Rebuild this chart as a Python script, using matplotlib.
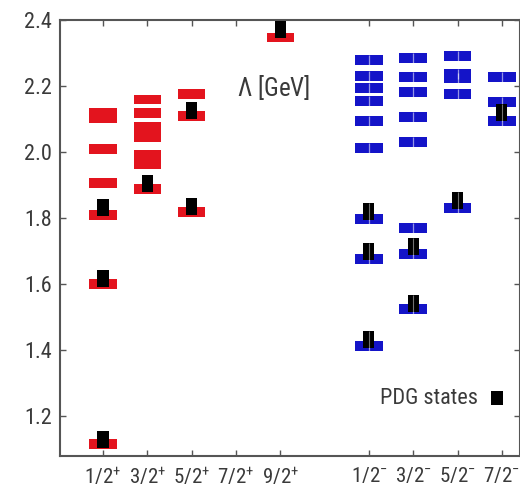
import matplotlib
matplotlib.use("Agg")
import matplotlib.pyplot as plt
from matplotlib.patches import Rectangle
from matplotlib import font_manager

# ---------------- data ----------------
pos_labels = [r"$\mathregular{1/2^{+}}$", r"$\mathregular{3/2^{+}}$", r"$\mathregular{5/2^{+}}$",
              r"$\mathregular{7/2^{+}}$", r"$\mathregular{9/2^{+}}$"]
neg_labels = [r"$\mathregular{1/2^{-}}$", r"$\mathregular{3/2^{-}}$", r"$\mathregular{5/2^{-}}$",
              r"$\mathregular{7/2^{-}}$"]
pos_x = [1, 2, 3, 4, 5]
neg_x = [7, 8, 9, 10]

# lattice levels (GeV), positive parity
lat_pos = [
    [1.115, 1.600, 1.809, 1.906, 2.009, 2.104, 2.118],          # 1/2+
    [1.888, 1.965, 1.992, 2.045, 2.076, 2.118, 2.159],          # 3/2+
    [1.818, 2.108, 2.176],                                      # 5/2+
    [],                                                         # 7/2+
    [2.347],                                                    # 9/2+
]
# lattice levels (GeV), negative parity
lat_neg = [
    [1.411, 1.677, 1.797, 2.012, 2.094, 2.155, 2.193, 2.229, 2.279],  # 1/2-
    [1.524, 1.690, 1.771, 2.029, 2.106, 2.182, 2.226, 2.286],         # 3/2-
    [1.830, 2.176, 2.223, 2.237, 2.292],                              # 5/2-
    [2.095, 2.152, 2.226],                                            # 7/2-
]
# PDG states (GeV)
pdg_pos = [[1.130, 1.616, 1.833], [1.905], [1.836, 2.126], [], [2.370]]
pdg_neg = [[1.432, 1.698, 1.820], [1.541, 1.714], [1.853], [2.120]]

yticks = [1.2, 1.4, 1.6, 1.8, 2.0, 2.2, 2.4]

# ---------------- font selection ----------------
fonts = font_manager.fontManager.ttflist
names = {f.name for f in fonts}
stretch = "normal"
fam = None
for cand in ["Liberation Sans Narrow", "Roboto Condensed", "Open Sans Condensed",
             "Noto Sans Condensed"]:
    if cand in names:
        fam = cand
        break
if fam is None:
    cond = [f for f in fonts if f.name in ("DejaVu Sans", "Noto Sans", "Open Sans", "Roboto")
            and str(f.stretch) in ("condensed", "semi-condensed", "extra-condensed", "75", "87.5")]
    if cond:
        fam = cond[0].name
        stretch = cond[0].stretch
    else:
        fam = "Liberation Sans"

plt.rcParams["font.family"] = [fam, "DejaVu Sans"]
plt.rcParams["font.stretch"] = stretch
plt.rcParams["mathtext.fontset"] = "custom"
plt.rcParams["mathtext.rm"] = fam

RED = "#e3141e"
BLUE = "#1414c8"
TXT = "#3a3a3a"
SPN = "#555555"

fig = plt.figure(figsize=(5.2, 4.96), dpi=100)
ax = fig.add_axes([60 / 520, 1 - 456 / 496, (520 - 60) / 520, (456 - 20) / 496])
ax.set_xlim(0.03, 10.41)
ax.set_ylim(1.079, 2.4)

BW = 0.62   # lattice bar width (x units)
BH = 0.030  # lattice bar height (GeV)
PW = 0.25   # PDG marker width
PH = 0.052  # PDG marker height


def draw_col(x, levels, pdg, color, split):
    for m in levels:
        ax.add_patch(Rectangle((x - BW / 2, m - BH / 2), BW, BH, facecolor=color,
                               edgecolor="none", zorder=2))
        if split:
            ax.plot([x, x], [m - BH / 2, m + BH / 2], color="white", lw=0.9,
                    alpha=0.55, zorder=2.5, solid_capstyle="butt")
    for m in pdg:
        ax.add_patch(Rectangle((x - PW / 2, m - PH / 2), PW, PH, facecolor="black",
                               edgecolor="none", zorder=3))
        if split:
            ax.plot([x, x], [m - PH / 2, m + PH / 2], color="white", lw=0.8,
                    alpha=0.45, zorder=3.5, solid_capstyle="butt")


for x, lv, pd in zip(pos_x, lat_pos, pdg_pos):
    draw_col(x, lv, pd, RED, False)
for x, lv, pd in zip(neg_x, lat_neg, pdg_neg):
    draw_col(x, lv, pd, BLUE, True)

ax.set_xticks(pos_x + neg_x)
ax.set_xticklabels(pos_labels + neg_labels)
ax.set_yticks(yticks)
ax.set_yticklabels([f"{v:.1f}" for v in yticks])

ax.tick_params(axis="both", direction="in", length=4, width=1, color=SPN,
               top=True, right=True, labelcolor=TXT)
ax.tick_params(axis="x", labelsize=15, pad=7)
ax.tick_params(axis="y", labelsize=16, pad=6)
for s in ax.spines.values():
    s.set_color(SPN)
    s.set_linewidth(1.5)

ax.text(0.384, 0.845, r"$\mathregular{\Lambda}$ [GeV]", transform=ax.transAxes,
        fontsize=18, color=TXT, ha="left", va="center")
ax.text(0.908, 0.133, "PDG states", transform=ax.transAxes, fontsize=16,
        color=TXT, ha="right", va="center")
ax.add_patch(Rectangle((0.937, 0.118), 0.026, 0.030, transform=ax.transAxes,
                       facecolor="black", edgecolor="none", clip_on=False))

fig.savefig("out.png", dpi=100)
